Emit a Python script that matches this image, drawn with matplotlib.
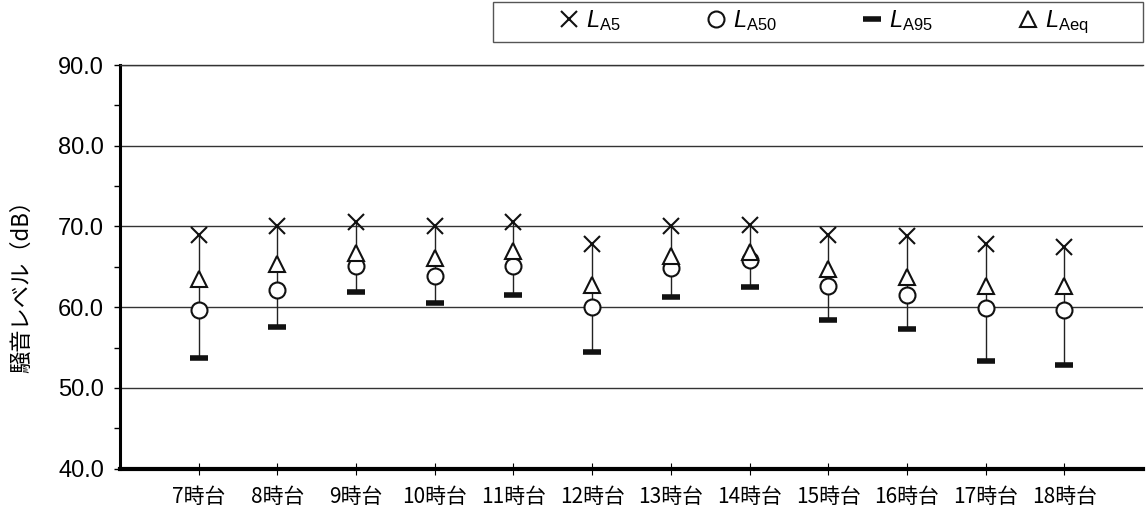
import matplotlib
matplotlib.use("Agg")
import matplotlib.pyplot as plt
from matplotlib.lines import Line2D
from matplotlib.patches import Rectangle
from matplotlib.ticker import MultipleLocator

plt.rcParams['font.family'] = ['Liberation Sans', 'Noto Sans CJK JP', 'DejaVu Sans']
plt.rcParams['mathtext.fontset'] = 'custom'
plt.rcParams['mathtext.rm'] = 'Liberation Sans'
plt.rcParams['mathtext.it'] = 'Liberation Sans:italic'

hours = ["7時台", "8時台", "9時台", "10時台", "11時台", "12時台",
         "13時台", "14時台", "15時台", "16時台", "17時台", "18時台"]
la5 = [69.0, 70.0, 70.5, 70.0, 70.5, 67.8, 70.0, 70.2, 69.0, 68.8, 67.8, 67.4]
la50 = [59.6, 62.1, 65.1, 63.9, 65.1, 60.0, 64.9, 65.9, 62.6, 61.5, 59.9, 59.6]
la95 = [53.7, 57.5, 61.9, 60.5, 61.5, 54.4, 61.3, 62.5, 58.4, 57.3, 53.3, 52.8]
laeq = [63.5, 65.3, 66.7, 66.1, 67.0, 62.7, 66.4, 66.9, 64.7, 63.7, 62.6, 62.6]

fig = plt.figure(figsize=(11.46, 5.12), dpi=100)
ax = fig.add_axes([0.1047, 0.0846, 0.8927, 0.7884])

x = list(range(len(hours)))

# range bars from L95 up to L5
ax.vlines(x, la95, la5, color='#222222', lw=1.0, zorder=2)

ax.plot(x, la95, ls='none', marker='_', ms=12.5, mew=4, color='#111111', zorder=3)
ax.plot(x, la50, ls='none', marker='o', ms=11.5, mew=1.5, mfc='white', mec='#111111', zorder=4)
ax.plot(x, laeq, ls='none', marker='^', ms=12, mew=1.5, mfc='white', mec='#111111', zorder=5)
ax.plot(x, la5, ls='none', marker='x', ms=11, mew=1.5, color='#111111', zorder=6)

ax.set_xlim(-1, 12)
ax.set_ylim(40, 90)
ax.yaxis.set_major_locator(MultipleLocator(10))
ax.yaxis.set_minor_locator(MultipleLocator(5))
ax.set_yticklabels([f"{v:.1f}" for v in ax.get_yticks()], fontsize=17,
                   family=['Liberation Sans', 'DejaVu Sans'])
ax.set_xticks(x)
ax.set_xticklabels(hours, fontsize=15, family=['Noto Sans CJK JP', 'DejaVu Sans'])

ax.tick_params(axis='y', which='both', direction='out', length=4.5, width=1, pad=7)
ax.tick_params(axis='x', direction='inout', length=9, width=0.8, pad=8)

ax.grid(axis='y', which='major', color='#333333', lw=1)
ax.set_axisbelow(True)

ax.spines['right'].set_visible(False)
ax.spines['top'].set_linewidth(1)
ax.spines['top'].set_color('#333333')
ax.spines['left'].set_linewidth(2.2)
ax.spines['bottom'].set_linewidth(3)

ax.set_ylabel("騒音レベル（dB）", fontsize=16, family=['Noto Sans CJK JP', 'DejaVu Sans'])
ax.yaxis.set_label_coords(-0.085, 0.465)

# legend box across the top right
fig.patches.append(Rectangle((0.430, 0.918), 0.567, 0.078, transform=fig.transFigure,
                             fill=False, ec='#555555', lw=1))
handles = [
    Line2D([], [], ls='none', marker='x', ms=11, mew=1.5, color='#111111'),
    Line2D([], [], ls='none', marker='o', ms=11.5, mew=1.5, mfc='white', mec='#111111'),
    Line2D([], [], ls='none', marker='_', ms=12.5, mew=4, color='#111111'),
    Line2D([], [], ls='none', marker='^', ms=12, mew=1.5, mfc='white', mec='#111111'),
]
labels = [r"$\mathit{L}_{\mathrm{A5}}$", r"$\mathit{L}_{\mathrm{A50}}$",
          r"$\mathit{L}_{\mathrm{A95}}$", r"$\mathit{L}_{\mathrm{Aeq}}$"]
leg = fig.legend(handles, labels, ncol=4, loc='center',
                 bbox_to_anchor=(0.430 + 0.567 / 2 + 0.005, 0.918 + 0.078 / 2),
                 fontsize=17, frameon=False, handlelength=0.9, handletextpad=0.25,
                 columnspacing=3.6, borderpad=0)

fig.savefig("out.png", dpi=100)
